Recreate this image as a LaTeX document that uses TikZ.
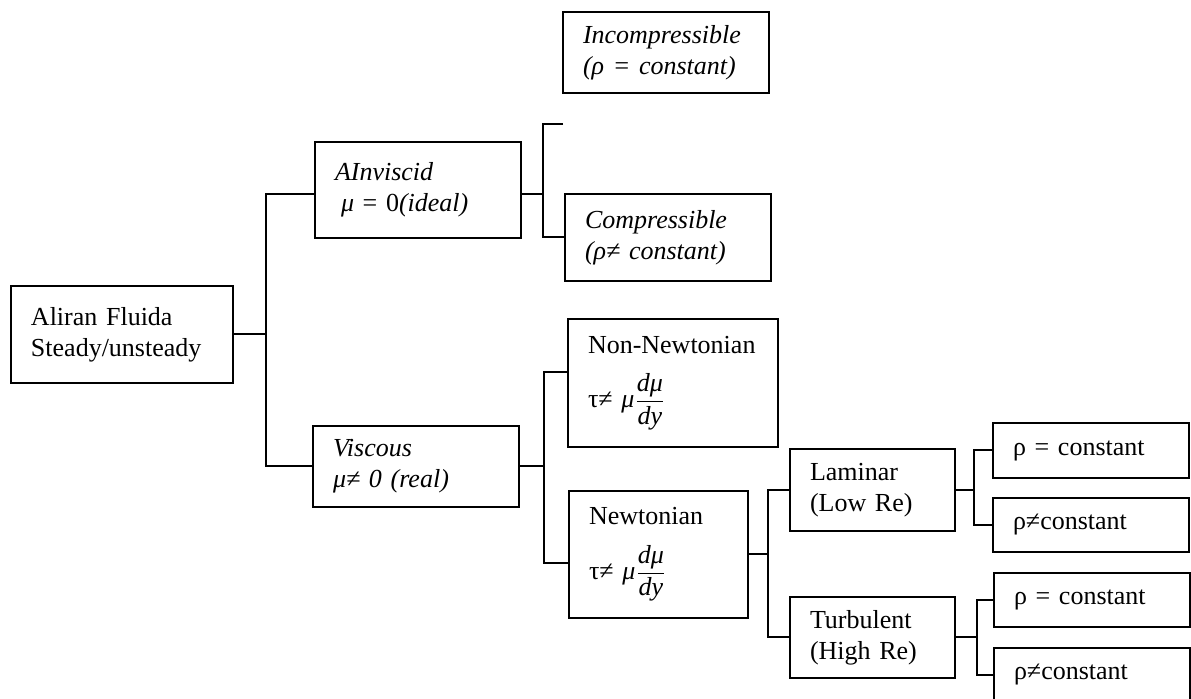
\documentclass[tikz,border=0pt]{standalone}
\usepackage{fontspec}
\setmainfont{Liberation Serif}
\usepackage{amsmath}
\usepackage{tikz}
\usetikzlibrary{positioning, calc}

\begin{document}
\begin{tikzpicture}[
  x=0.5pt, y=0.5pt,
  box/.style={draw, line width=1pt, inner xsep=10pt, inner ysep=0pt, align=left,
    font=\fontsize{13pt}{15.5pt}\selectfont},
  link/.style={line width=1pt}
]
\useasboundingbox (0,0) rectangle (1191,699);

% Root
\node[box, text width=91pt, minimum height=48.5pt] (aliran) at (122, 364.5) {Aliran Fluida\\Steady/unsteady};

% Level 1: inviscid / viscous
\node[box, text width=83pt, minimum height=48pt] (ainv) at (418, 509) {\textit{AInviscid}\\\hspace*{3pt}\textit{μ} = 0\textit{(ideal)}};
\node[box, text width=83pt, minimum height=40.5pt] (visc) at (416, 232.5) {\textit{Viscous}\\\textit{μ≠ 0 (real)}};

% Level 2: compressibility
\node[box, text width=83pt, minimum height=40.5pt] (incomp) at (666, 646.5) {\textit{Incompressible}\\\textit{(ρ = constant)}};
\node[box, text width=83pt, minimum height=43.5pt] (comp) at (668, 461.5) {\textit{Compressible}\\\textit{(ρ≠ constant)}};

% Level 2: rheology
\node[box, text width=85pt, minimum height=64pt] (nonnewt) at (673, 316) {Non-Newtonian\\[9pt]τ≠ \textit{μ}$\displaystyle\frac{\textit{dμ}}{\textit{dy}}$};
\node[box, text width=69.5pt, minimum height=63.5pt] (newt) at (658.5, 144.5) {Newtonian\\[9pt]τ≠ \textit{μ}$\displaystyle\frac{\textit{dμ}}{\textit{dy}}$};

% Level 3: flow regime
\node[box, text width=62.5pt, minimum height=41pt] (lam) at (872.5, 209) {Laminar\\(Low Re)};
\node[box, text width=62.5pt, minimum height=40.5pt] (turb) at (872.5, 61.5) {Turbulent\\(High Re)};

% Level 4: density
\node[box, text width=78pt, minimum height=27.5pt] (lc1) at (1091, 248.5) {ρ = constant};
\node[box, text width=78pt, minimum height=27pt] (ln1) at (1091, 174) {ρ≠constant};
\node[box, text width=78pt, minimum height=27pt] (tc1) at (1092, 99) {ρ = constant};
\node[box, text width=78pt, minimum height=27pt] (tn1) at (1092, 24) {ρ≠constant};

% Connectors
\draw[link] (aliran.east) -- ++(32,0) coordinate (j1);
\draw[link] ([yshift=-2pt]ainv.west) -| (j1) |- (visc.west);

\draw[link] ([yshift=-2pt]ainv.east) -- ++(21,0) coordinate (j2);
\coordinate (stub) at (563, 575);
\draw[link] (stub) -| (j2) |- (comp.west);

\draw[link] (visc.east) -- ++(24,0) coordinate (j3);
\draw[link] ([yshift=5.5pt]nonnewt.west) -| (j3) |- ([yshift=-4.25pt]newt.west);

\draw[link] (newt.east) -- ++(19,0) coordinate (j4);
\draw[link] (lam.west) -| (j4) |- (turb.west);

\draw[link] (lam.east) -- ++(18,0) coordinate (j5);
\draw[link] (lc1.west) -| (j5) |- (ln1.west);

\draw[link] (turb.east) -- ++(21,0) coordinate (j6);
\draw[link] (tc1.west) -| (j6) |- (tn1.west);

\end{tikzpicture}
\end{document}
